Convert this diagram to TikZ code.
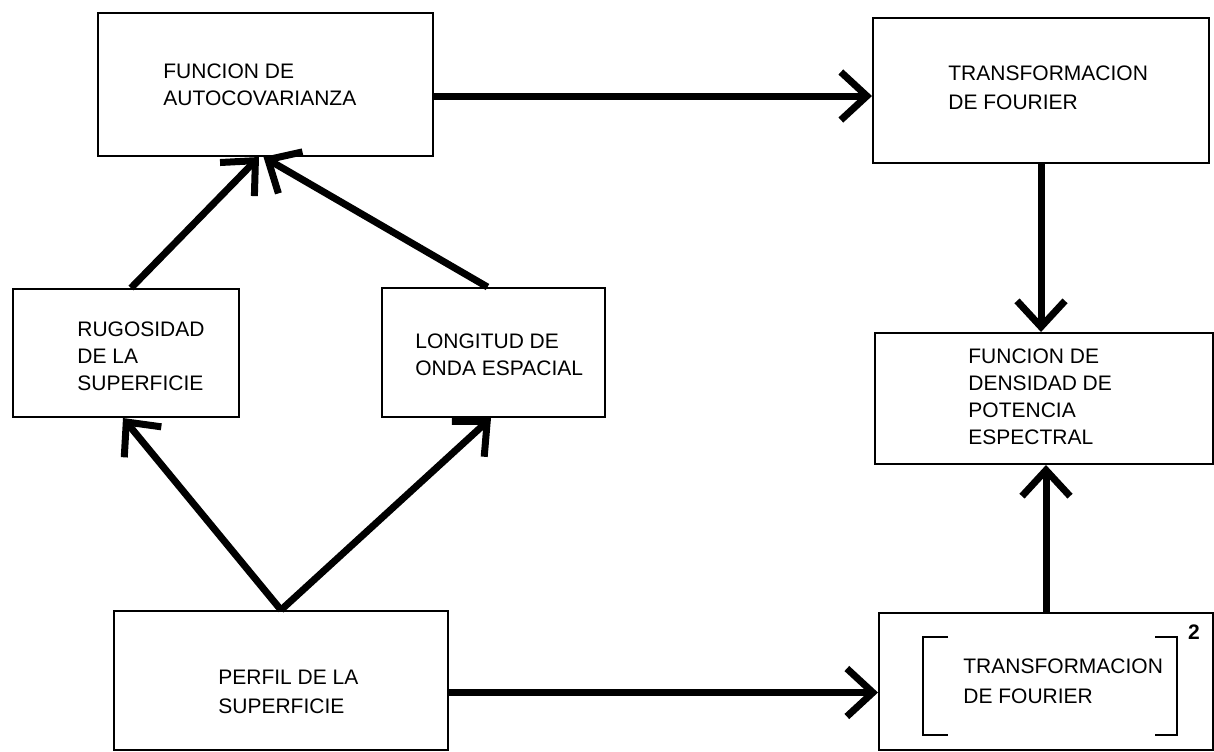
\documentclass[tikz,border=0pt]{standalone}
\usepackage{fontspec}
\setmainfont{Liberation Sans}
\usetikzlibrary{arrows.meta}
\begin{document}
\begin{tikzpicture}[x=0.5pt,y=-0.5pt,
  box/.style={draw=black,line width=1pt,rectangle,inner sep=0pt,anchor=north west},
  txt/.style={align=left,inner sep=0pt,anchor=west,font=\fontsize{10.5}{13.5}\selectfont},
  conn/.style={line width=3.5pt,-{Straight Barb[length=13pt,width=24pt]}},
  brk/.style={line width=1.2pt}]
\useasboundingbox (0,0) rectangle (1214,751);
% boxes
\node[box,minimum width=167.5pt,minimum height=71.5pt] (ac) at (97,12) {};
\node[box,minimum width=168pt,minimum height=72.5pt] (tf) at (872,17) {};
\node[box,minimum width=113pt,minimum height=64pt] (rg) at (12,288) {};
\node[box,minimum width=111.5pt,minimum height=64.5pt] (lo) at (381,287) {};
\node[box,minimum width=169pt,minimum height=65.5pt] (de) at (874,332) {};
\node[box,minimum width=167pt,minimum height=69.5pt] (pe) at (113,610) {};
\node[box,minimum width=167pt,minimum height=68.5pt] (t2) at (878,612) {};
% texts
\node[txt] (acT) at (163,85) {FUNCION DE\\AUTOCOVARIANZA};
\node[txt,font=\fontsize{10.5}{14.5}\selectfont] (tfT) at (948,88) {TRANSFORMACION\\DE FOURIER};
\node[txt] (rgT) at (77,356) {RUGOSIDAD\\DE LA\\SUPERFICIE};
\node[txt] (loT) at (415,355) {LONGITUD DE\\ONDA ESPACIAL};
\node[txt] (deT) at (968,397) {FUNCION DE\\DENSIDAD DE\\POTENCIA\\ESPECTRAL};
\node[txt,font=\fontsize{10.5}{14.5}\selectfont] (peT) at (218,692) {PERFIL DE LA\\SUPERFICIE};
\node[txt,font=\fontsize{10.5}{15}\selectfont] (t2T) at (963,681) {TRANSFORMACION\\DE FOURIER};
% brackets
\draw[brk] (948,637) -- (923,637) -- (923,735) -- (948,735);
\draw[brk] (1155,637) -- (1177,637) -- (1177,735) -- (1155,735);
\node[inner sep=0pt,font=\fontsize{10.5}{12}\selectfont\bfseries] (sq) at (1194,632) {2};
% connectors
\draw[conn] ([yshift=-5.75pt]ac.east) -- ([yshift=-5.75pt]ac.east -| tf.west);
\draw[conn] (tf.south) -- (tf.south |- de.north);
\draw[conn] (t2.north) -- (t2.north |- de.south);
\draw[conn] ([yshift=-6pt]pe.east) -- ([yshift=-6pt]pe.east -| t2.west);
\draw[conn] ([xshift=2.5pt]rg.north) -- ([xshift=-3.25pt]ac.south);
\draw[conn] ([xshift=-3pt]lo.north) -- ([xshift=-1pt]ac.south);
\draw[conn] (pe.north) -- ([xshift=-1.5pt]rg.south);
\draw[conn] (pe.north) -- ([xshift=-1.25pt]lo.south);
\end{tikzpicture}
\end{document}
